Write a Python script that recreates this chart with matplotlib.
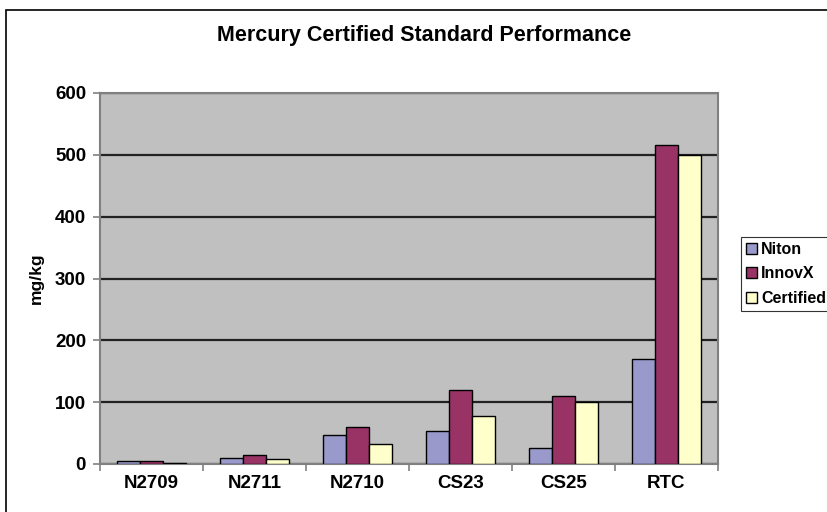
import numpy as np
import matplotlib.pyplot as plt
from matplotlib.patches import Rectangle

# dados (mg/kg)
amostras = ['N2709', 'N2711', 'N2710', 'CS23', 'CS25', 'RTC']
niton = [5, 10, 47, 54, 26, 170]
innovx = [5, 14, 60, 119, 110, 516]
certificado = [2, 8, 33, 78, 100, 500]
series = ['Niton', 'InnovX', 'Certified']
cores = ['#9999CC', '#993366', '#FFFFCC']

plt.rcParams['font.family'] = ['Liberation Sans', 'DejaVu Sans']
plt.rcParams['font.weight'] = 'bold'

fig = plt.figure(figsize=(8.28, 5.12), dpi=100)
fig.patch.set_facecolor('white')

# moldura externa do grafico (cortada na direita e embaixo)
fig.add_artist(Rectangle((6 / 828, -0.5), 2.0, 1 - 10 / 512 + 0.5,
                         transform=fig.transFigure, fill=False,
                         edgecolor='black', linewidth=1.2))

ax = fig.add_axes([100 / 828, 48 / 512, 618 / 828, 371 / 512])
ax.set_facecolor('#C0C0C0')

x = np.arange(len(amostras))
largura = 1 / 4.5
for i, (valores, nome) in enumerate(zip([niton, innovx, certificado], series)):
    ax.bar(x + (i - 1) * largura, valores, largura, color=cores[i],
           edgecolor='black', linewidth=1, label=nome, zorder=3)

ax.set_xlim(-0.5, len(amostras) - 0.5)
ax.set_ylim(0, 600)
ax.set_yticks(range(0, 601, 100))
ax.yaxis.grid(True, color='#222222', linewidth=1.6, zorder=1)
ax.set_axisbelow(True)

# marcas do eixo x nas divisoes entre categorias
ax.set_xticks(np.arange(-0.5, len(amostras) + 0.5, 1), minor=False)
ax.set_xticklabels([])
ax.set_xticks(x, minor=True)
ax.set_xticklabels(amostras, minor=True, fontsize=13.5, fontweight='bold')
ax.tick_params(axis='x', which='minor', length=0, pad=8)
ax.tick_params(axis='x', which='major', length=5, color='#808080', width=1.2)
ax.tick_params(axis='y', length=5, color='#808080', width=1.2, labelsize=13.5, pad=5)

for lado in ax.spines.values():
    lado.set_color('#808080')
    lado.set_linewidth(1.5)

ax.set_ylabel('mg/kg', fontsize=12.5, fontweight='bold', labelpad=8)
fig.text(424 / 828, 1 - 35 / 512, 'Mercury Certified Standard Performance',
         ha='center', va='center', fontsize=15.5, fontweight='bold')

leg = fig.legend(loc='upper left', bbox_to_anchor=(741 / 828, 1 - 237 / 512),
                 fontsize=11.5, frameon=True, fancybox=False, borderpad=0.3,
                 handlelength=0.7, handleheight=0.7, handletextpad=0.25,
                 labelspacing=0.6, borderaxespad=0)
leg.get_frame().set_edgecolor('black')
leg.get_frame().set_linewidth(0.8)

fig.savefig('out.png', dpi=100)
